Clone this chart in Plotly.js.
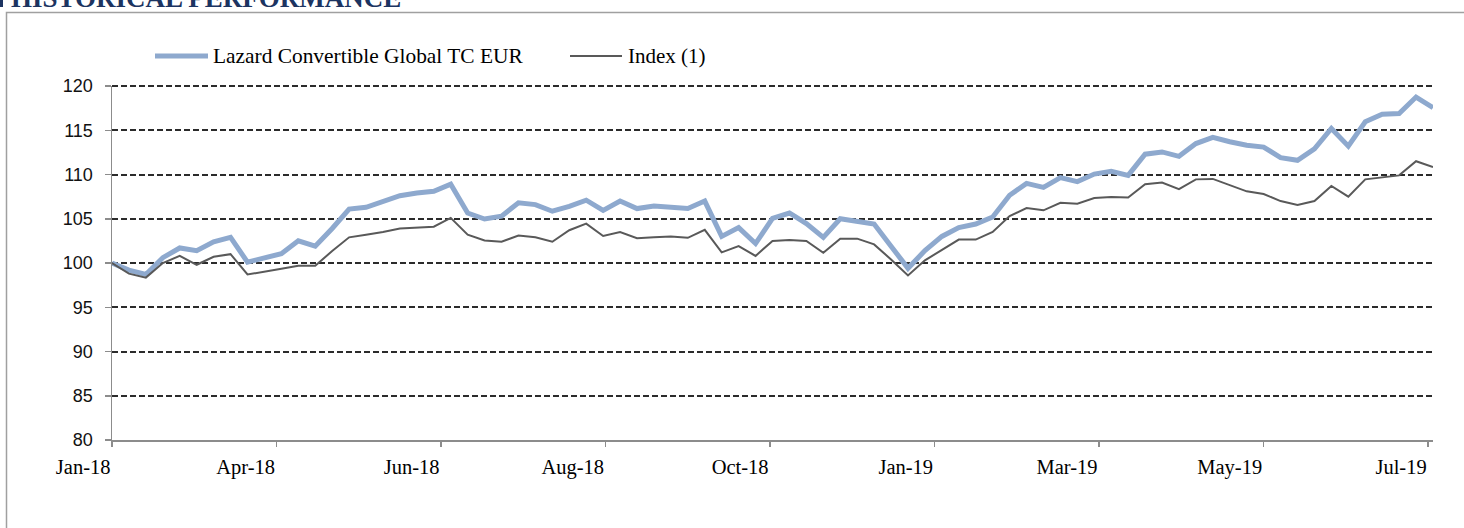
<!DOCTYPE html>
<html>
<head>
<meta charset="utf-8">
<script src="https://cdn.plot.ly/plotly-3.0.1.min.js"></script>
<style>
  html, body { margin: 0; padding: 0; background: #ffffff; overflow: hidden; }
  #chart { width: 1464px; height: 528px; }
</style>
</head>
<body>
<div id="chart"></div>
<script>
// ---- data ----
const dates = [
  '2018-01-26','2018-02-02','2018-02-09','2018-02-16','2018-02-23',
  '2018-03-02','2018-03-09','2018-03-16','2018-03-23','2018-03-30',
  '2018-04-06','2018-04-13','2018-04-20','2018-04-27',
  '2018-05-04','2018-05-11','2018-05-18','2018-05-25',
  '2018-06-01','2018-06-08','2018-06-15','2018-06-22','2018-06-29',
  '2018-07-06','2018-07-13','2018-07-20','2018-07-27',
  '2018-08-03','2018-08-10','2018-08-17','2018-08-24','2018-08-31',
  '2018-09-07','2018-09-14','2018-09-21','2018-09-28',
  '2018-10-05','2018-10-12','2018-10-19','2018-10-26',
  '2018-11-02','2018-11-09','2018-11-16','2018-11-23','2018-11-30',
  '2018-12-07','2018-12-14','2018-12-21','2018-12-28',
  '2019-01-04','2019-01-11','2019-01-18','2019-01-25',
  '2019-02-01','2019-02-08','2019-02-15','2019-02-22',
  '2019-03-01','2019-03-08','2019-03-15','2019-03-22','2019-03-29',
  '2019-04-05','2019-04-12','2019-04-19','2019-04-26',
  '2019-05-03','2019-05-10','2019-05-17','2019-05-24','2019-05-31',
  '2019-06-07','2019-06-14','2019-06-21','2019-06-28',
  '2019-07-05','2019-07-12','2019-07-19','2019-07-26'
];

const fundValues = [
  100.0, 99.2, 98.7, 100.6, 101.7, 101.4, 102.4, 102.9, 100.1, 100.6,
  101.05, 102.5, 101.9, 103.9, 106.1, 106.3, 106.9, 107.6, 107.9, 108.1,
  108.9, 105.65, 104.97, 105.3, 106.8, 106.6, 105.85, 106.4, 107.1, 105.95,
  107.0, 106.15, 106.45, 106.25, 106.15, 107.0, 103.0, 104.0, 102.2, 105.05,
  105.65, 104.45, 102.9, 105.0, 104.75, 104.4, 101.9, 99.4, 101.4, 103.0,
  104.0, 104.4, 105.2, 107.65, 109.0, 108.55, 109.65, 109.2, 110.05, 110.35,
  109.9, 112.3, 112.55, 112.05, 113.5, 114.2, 113.7, 113.3, 113.1, 111.9,
  111.6, 112.9, 115.2, 113.2, 115.95, 116.8, 116.9, 118.75, 117.55
];

const indexValues = [
  100.0, 98.8, 98.35, 100.0, 100.8, 99.8, 100.7, 101.0, 98.7, 99.0,
  99.35, 99.7, 99.7, 101.35, 102.9, 103.2, 103.5, 103.9, 104.0, 104.1,
  105.1, 103.2, 102.55, 102.4, 103.1, 102.9, 102.4, 103.7, 104.45, 103.05,
  103.5, 102.8, 102.9, 103.0, 102.85, 103.75, 101.2, 101.9, 100.8, 102.5,
  102.6, 102.5, 101.15, 102.75, 102.75, 102.1, 100.4, 98.6, 100.3, 101.45,
  102.65, 102.65, 103.5, 105.3, 106.2, 105.95, 106.8, 106.7, 107.35, 107.45,
  107.4, 108.9, 109.1, 108.35, 109.45, 109.5, 108.8, 108.1, 107.8, 107.0,
  106.55, 107.0, 108.7, 107.5, 109.45, 109.65, 109.9, 111.5, 110.85
];

const seriesNames = ['Lazard Convertible Global TC EUR', 'Index (1)'];
const tickDates = ['2018-01-26','2018-04-04','2018-06-11','2018-08-18','2018-10-25',
                   '2019-01-01','2019-03-10','2019-05-17','2019-07-24'];
const yTicks = [80, 85, 90, 95, 100, 105, 110, 115, 120];
const chartTitle = 'HISTORICAL PERFORMANCE';

// ---- layout geometry (pixels) ----
const FW = 1464, FH = 528;
const ML = 112, MR = 31, MT = 86, MB = 88;
const PW = FW - ML - MR, PH = FH - MT - MB;
const px = v => (v - ML) / PW;
const py = v => (FH - MB - v) / PH;

const BLUE = '#8EA9CE';
const GREY = '#595959';
const NAVY = '#1c3461';
const GRID = '#2b2b2b';

const traces = [
  { x: dates, y: fundValues, name: seriesNames[0], type: 'scatter', mode: 'lines',
    line: { color: BLUE, width: 5 }, showlegend: false, hoverinfo: 'skip' },
  { x: dates, y: indexValues, name: seriesNames[1], type: 'scatter', mode: 'lines',
    line: { color: GREY, width: 2 }, showlegend: false, hoverinfo: 'skip' }
];

const legY = 56;
const shapes = [
  // outer frame
  { type: 'rect', xref: 'paper', yref: 'paper', x0: px(6.5), x1: px(1480), y0: py(540), y1: py(12.5),
    line: { color: '#a0a0a0', width: 1.5 }, fillcolor: 'rgba(0,0,0,0)', layer: 'below' },
  // top gridline at the range edge (top of the plot area = 120)
  { type: 'line', xref: 'paper', yref: 'paper', x0: 0, x1: 1, y0: 1, y1: 1,
    line: { color: GRID, width: 2, dash: '6px,3px' }, layer: 'above' },
  // small navy marker next to title
  { type: 'rect', xref: 'paper', yref: 'paper', x0: px(0), x1: px(3), y0: py(7), y1: py(-2),
    line: { width: 0 }, fillcolor: NAVY },
  // legend samples
  { type: 'line', xref: 'paper', yref: 'paper', x0: px(155), x1: px(208), y0: py(legY), y1: py(legY),
    line: { color: BLUE, width: 5 } },
  { type: 'line', xref: 'paper', yref: 'paper', x0: px(570), x1: px(622), y0: py(legY), y1: py(legY),
    line: { color: GREY, width: 2 } }
];

const annotations = [
  { xref: 'paper', yref: 'paper', x: px(9), y: py(-2), xanchor: 'left', yanchor: 'middle',
    text: '<b>' + chartTitle + '</b>', showarrow: false,
    font: { family: 'Liberation Serif, Times New Roman, serif', size: 27, color: NAVY } },
  { xref: 'paper', yref: 'paper', x: px(211), y: py(legY), xanchor: 'left', yanchor: 'middle',
    text: seriesNames[0], showarrow: false,
    font: { family: 'Liberation Serif, Times New Roman, serif', size: 21.4, color: '#000' } },
  { xref: 'paper', yref: 'paper', x: px(626), y: py(legY), xanchor: 'left', yanchor: 'middle',
    text: seriesNames[1], showarrow: false,
    font: { family: 'Liberation Serif, Times New Roman, serif', size: 21, color: '#000' } }
];

const layout = {
  width: FW, height: FH,
  margin: { l: ML, r: MR, t: MT, b: MB, pad: 0 },
  paper_bgcolor: '#ffffff', plot_bgcolor: '#ffffff',
  showlegend: false,
  xaxis: {
    type: 'date',
    range: [dates[0], dates[dates.length - 1]],
    tickmode: 'array', tickvals: tickDates, tickformat: '%b-%y',
    ticklabelposition: 'outside left',
    showgrid: false, zeroline: false,
    showline: true, linecolor: '#8c8c8c', linewidth: 1.5,
    ticks: 'outside', ticklen: 5, tickwidth: 1.5, tickcolor: '#8c8c8c',
    tickfont: { family: 'Liberation Serif, Times New Roman, serif', size: 20.5, color: '#000' },
    ticklabelstandoff: 8
  },
  yaxis: {
    range: [80, 120], tickmode: 'array', tickvals: yTicks,
    showgrid: true, gridcolor: GRID, gridwidth: 2, griddash: '6px,3px',
    zeroline: false,
    showline: true, linecolor: '#8c8c8c', linewidth: 1.5,
    ticks: 'outside', ticklen: 6, tickwidth: 1.5, tickcolor: '#8c8c8c',
    tickfont: { family: 'Liberation Sans, Arial, sans-serif', size: 18, color: '#111' },
    ticklabelstandoff: 8
  },
  shapes: shapes,
  annotations: annotations
};

Plotly.newPlot('chart', traces, layout, { staticPlot: true, displayModeBar: false });
</script>
</body>
</html>
